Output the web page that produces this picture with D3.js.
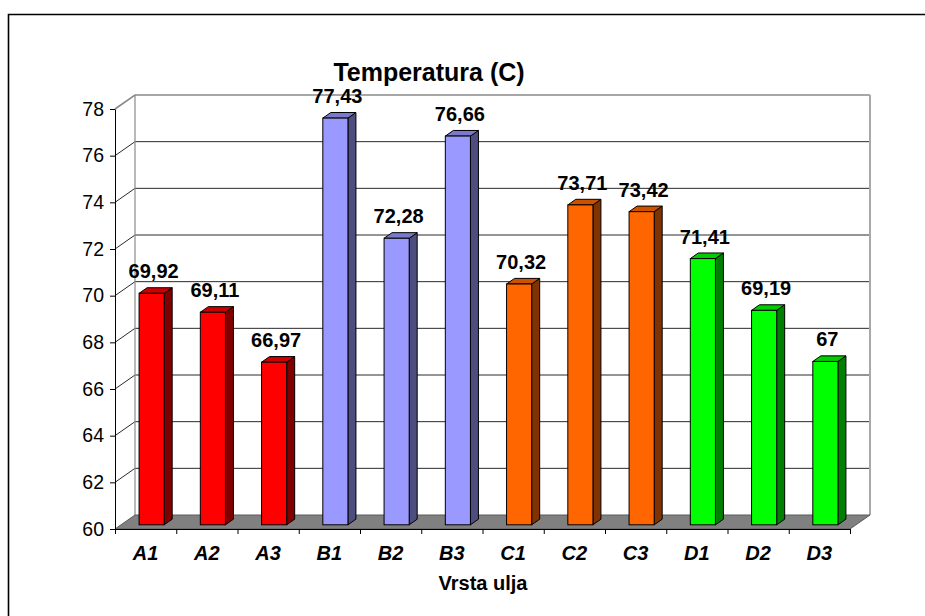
<!DOCTYPE html>
<html>
<head>
<meta charset="utf-8">
<script src="https://cdn.jsdelivr.net/npm/d3@7"></script>
<style>
  html, body { margin: 0; padding: 0; background: #fff; }
  svg { display: block; font-family: "Liberation Sans", Arial, sans-serif; }
</style>
</head>
<body>
<svg id="chart" width="925" height="616"></svg>
<script>
// ---- data ----
const categories = ["A1","A2","A3","B1","B2","B3","C1","C2","C3","D1","D2","D3"];
const values     = [69.92, 69.11, 66.97, 77.43, 72.28, 76.66, 70.32, 73.71, 73.42, 71.41, 69.19, 67];
const groups     = ["A","A","A","B","B","B","C","C","C","D","D","D"];
const yTicks     = [60, 62, 64, 66, 68, 70, 72, 74, 76, 78];
const chartTitle = "Temperatura (C)";
const xTitle     = "Vrsta ulja";

// ---- layout ----
const svg = d3.select("#chart");
const X0 = 115, X1 = 850, YB = 529, YT = 109;
const DX = 20, DY = -14;           // wall depth offset
const f0 = 0.3, f1 = 0.7;          // bar depth range

const xSlot = d3.scaleBand().domain(categories).range([X0, X1]).padding(0);
const xIdx = d3.scaleLinear().domain([0, categories.length]).range([X0, X1]);
const y = d3.scaleLinear().domain([60, 78]).range([YB, YT]);
const color = d3.scaleOrdinal().domain(["A","B","C","D"])
  .range(["#FF0000", "#9999FF", "#FF6600", "#00FF00"]);
const shade = (c, k) => { const r = d3.rgb(c); return d3.rgb(r.r * k, r.g * k, r.b * k).formatHex(); };

// outer frame (left/top visible)
svg.append("path")
  .attr("d", `M8.5,620 V14.5 H930`)
  .attr("fill", "none").attr("stroke", "#000").attr("stroke-width", 1.6);

const yMin = y(60), yMax = y(78);

// back wall
svg.append("rect")
  .attr("x", X0 + DX).attr("y", yMax + DY)
  .attr("width", X1 - X0).attr("height", yMin - yMax)
  .attr("fill", "#fff").attr("stroke", "none");

// left wall
svg.append("path")
  .attr("d", `M${X0},${yMin} L${X0},${yMax} L${X0+DX},${yMax+DY} L${X0+DX},${yMin+DY} Z`)
  .attr("fill", "#fff");

// gridlines (back wall + left wall diagonals)
const grid = svg.append("g");
yTicks.filter(t => t > 60).forEach(t => {
  const yy = y(t);
  const isTop = t === 78;
  grid.append("path")
    .attr("d", `M${X0},${yy} L${X0+DX},${yy+DY} L${X1+DX},${yy+DY}`)
    .attr("fill", "none")
    .attr("stroke", isTop ? "#8a8a8a" : "#2a2a2a")
    .attr("stroke-width", isTop ? 1.6 : 1);
});
// back wall left and right edges
svg.append("line")
  .attr("x1", X0 + DX).attr("x2", X0 + DX)
  .attr("y1", yMax + DY).attr("y2", yMin + DY)
  .attr("stroke", "#8a8a8a").attr("stroke-width", 1.2);
svg.append("line")
  .attr("x1", X1 + DX).attr("x2", X1 + DX)
  .attr("y1", yMax + DY).attr("y2", yMin + DY)
  .attr("stroke", "#a8a8a8").attr("stroke-width", 2);

// floor
svg.append("path")
  .attr("d", `M${X0},${yMin} L${X1},${yMin} L${X1+DX},${yMin+DY} L${X0+DX},${yMin+DY} Z`)
  .attr("fill", "#808080").attr("stroke", "#5a5a5a").attr("stroke-width", 1);

// y axis
const yAxis = svg.append("g")
  .attr("transform", `translate(${X0},0)`)
  .call(d3.axisLeft(y).tickValues(yTicks).tickSize(5).tickSizeOuter(0).tickPadding(6));
yAxis.select(".domain").attr("stroke", "#000");
yAxis.selectAll(".tick line").attr("stroke", "#000");
yAxis.selectAll(".tick text")
  .attr("font-family", "Liberation Sans, Arial, sans-serif")
  .attr("font-size", 19.5).attr("fill", "#000");

// x axis (boundary ticks)
const xAxis = svg.append("g")
  .attr("transform", `translate(0,${yMin})`)
  .call(d3.axisBottom(xIdx).tickValues(d3.range(categories.length + 1))
    .tickFormat("").tickSize(5).tickSizeOuter(0));
xAxis.select(".domain").attr("stroke", "#000");
xAxis.selectAll(".tick line").attr("stroke", "#000");

// x labels
svg.append("g").selectAll("text")
  .data(categories).join("text")
  .attr("x", d => xSlot(d) + xSlot.bandwidth() / 2)
  .attr("y", 560)
  .attr("text-anchor", "middle")
  .attr("font-size", 20).attr("font-weight", "bold").attr("font-style", "italic")
  .text(d => d);

// bars
const bw = xSlot.bandwidth() * 0.41;
const data = categories.map((c, i) => ({ c, v: values[i], g: groups[i] }));
const bars = svg.append("g").selectAll("g").data(data).join("g");
bars.each(function(d) {
  const g = d3.select(this);
  const xl = xSlot(d.c) + (xSlot.bandwidth() - bw) / 2 + f0 * DX;
  const xr = xl + bw;
  const yb = y(60) + f0 * DY;
  const yt = y(d.v) + f0 * DY;
  const ddx = (f1 - f0) * DX, ddy = (f1 - f0) * DY;
  const c = color(d.g);
  // side
  g.append("path")
    .attr("d", `M${xr},${yb} L${xr},${yt} L${xr+ddx},${yt+ddy} L${xr+ddx},${yb+ddy} Z`)
    .attr("fill", shade(c, 0.5)).attr("stroke", "#000").attr("stroke-width", 1).attr("stroke-linejoin", "round");
  // top
  g.append("path")
    .attr("d", `M${xl},${yt} L${xr},${yt} L${xr+ddx},${yt+ddy} L${xl+ddx},${yt+ddy} Z`)
    .attr("fill", shade(c, 0.8)).attr("stroke", "#000").attr("stroke-width", 1).attr("stroke-linejoin", "round");
  // front
  g.append("rect")
    .attr("x", xl).attr("y", yt).attr("width", bw).attr("height", yb - yt)
    .attr("fill", c).attr("stroke", "#000").attr("stroke-width", 1);
  // label
  g.append("text")
    .attr("x", xl + bw / 2 + 2)
    .attr("y", yt - 15)
    .attr("text-anchor", "middle")
    .attr("font-size", 20).attr("font-weight", "bold")
    .text(String(d.v).replace(".", ","));
});

// titles
svg.append("text")
  .attr("x", 429).attr("y", 81)
  .attr("text-anchor", "middle")
  .attr("font-size", 25).attr("font-weight", "bold")
  .text(chartTitle);
svg.append("text")
  .attr("x", 483).attr("y", 590)
  .attr("text-anchor", "middle")
  .attr("font-size", 20).attr("font-weight", "bold")
  .text(xTitle);
</script>
</body>
</html>
